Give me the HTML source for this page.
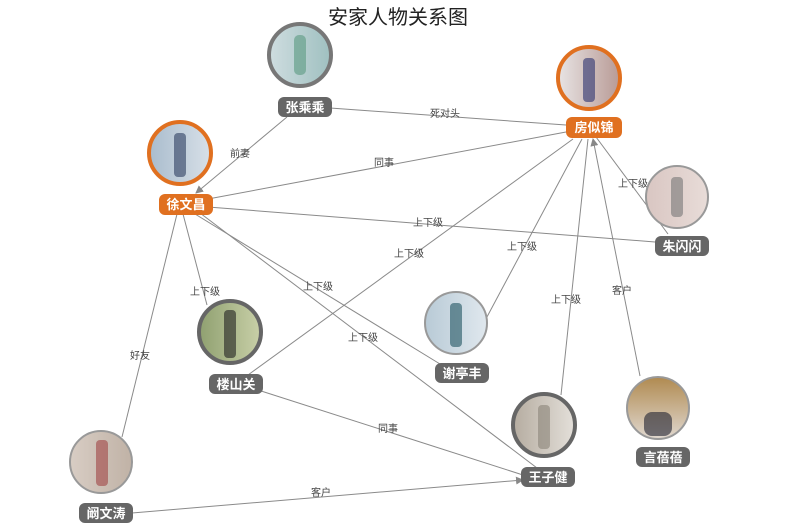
<!DOCTYPE html>
<html><head><meta charset="utf-8"><style>
html,body{margin:0;padding:0;background:#fff;}
svg{display:block;font-family:"Liberation Sans","Noto Sans CJK SC",sans-serif;}
.e{stroke:#8a8a8a;stroke-width:1;fill:none}
.el{font-size:10px;fill:#444;text-anchor:middle}
.lt{font-size:13px;fill:#fff;text-anchor:middle;font-weight:bold}
</style></head><body>
<svg width="800" height="530" viewBox="0 0 800 530">
<defs>
<marker id="a" markerWidth="8" markerHeight="8" refX="7" refY="4" orient="auto" markerUnits="userSpaceOnUse"><path d="M0,0 L8,4 L0,8 z" fill="#888"/></marker>
<linearGradient id="g1" x1="0" x2="1"><stop offset="0" stop-color="#cfdde0"/><stop offset="1" stop-color="#9fc0c0"/></linearGradient>
<linearGradient id="g2" x1="0" x2="1"><stop offset="0" stop-color="#e8e4e4"/><stop offset="1" stop-color="#b89a95"/></linearGradient>
<linearGradient id="g3" x1="0" x2="1"><stop offset="0" stop-color="#a9bccd"/><stop offset="1" stop-color="#d8e0e8"/></linearGradient>
<linearGradient id="g4" x1="0" x2="1"><stop offset="0" stop-color="#d9c6c2"/><stop offset="1" stop-color="#e8dcd8"/></linearGradient>
<linearGradient id="g5" x1="0" x2="1"><stop offset="0" stop-color="#8fa070"/><stop offset="1" stop-color="#c9d0a8"/></linearGradient>
<linearGradient id="g6" x1="0" x2="1"><stop offset="0" stop-color="#b8cad6"/><stop offset="1" stop-color="#e0e8ee"/></linearGradient>
<linearGradient id="g7" x1="0" x2="1"><stop offset="0" stop-color="#b5aca0"/><stop offset="1" stop-color="#e4e0da"/></linearGradient>
<linearGradient id="g8" x1="0" x2="0" y1="0" y2="1"><stop offset="0" stop-color="#b08a50"/><stop offset="1" stop-color="#e0d8d0"/></linearGradient>
<linearGradient id="g9" x1="0" x2="1"><stop offset="0" stop-color="#d8cdc4"/><stop offset="1" stop-color="#c0b2a6"/></linearGradient>
</defs>
<text x="398" y="24" font-size="20" text-anchor="middle" fill="#222">安家人物关系图</text>
<!-- edges -->
<line class="e" x1="287" y1="117" x2="196" y2="193" marker-end="url(#a)"/>
<line class="e" x1="330" y1="108" x2="566" y2="125"/>
<line class="e" x1="566" y1="132" x2="208" y2="199"/>
<line class="e" x1="208" y1="207" x2="655" y2="242"/>
<line class="e" x1="573" y1="139" x2="248" y2="375"/>
<line class="e" x1="582" y1="139" x2="480" y2="330"/>
<line class="e" x1="588" y1="139" x2="561" y2="395"/>
<line class="e" x1="596" y1="137" x2="668" y2="234"/>
<line class="e" x1="640" y1="376" x2="593" y2="139" marker-end="url(#a)"/>
<line class="e" x1="183" y1="214" x2="207" y2="305"/>
<line class="e" x1="195" y1="214" x2="440" y2="364"/>
<line class="e" x1="200" y1="213" x2="537" y2="468"/>
<line class="e" x1="177" y1="214" x2="122" y2="437"/>
<line class="e" x1="258" y1="390" x2="523" y2="475"/>
<line class="e" x1="132" y1="513" x2="523" y2="480" marker-end="url(#a)"/>
<g class="el">
<text x="240" y="157">前妻</text><text x="445" y="117">死对头</text><text x="384" y="166">同事</text>
<text x="428" y="226">上下级</text><text x="409" y="257">上下级</text><text x="522" y="250">上下级</text>
<text x="566" y="303">上下级</text><text x="633" y="187">上下级</text><text x="622" y="294">客户</text>
<text x="205" y="295">上下级</text><text x="318" y="290">上下级</text><text x="363" y="341">上下级</text>
<text x="140" y="359">好友</text><text x="388" y="432">同事</text><text x="321" y="496">客户</text>
</g>
<!-- circles -->
<circle cx="300" cy="55" r="31" fill="url(#g1)" stroke="#777" stroke-width="4"/>
<circle cx="589" cy="78" r="31" fill="url(#g2)" stroke="#e07020" stroke-width="4"/>
<circle cx="180" cy="153" r="31" fill="url(#g3)" stroke="#e07020" stroke-width="4"/>
<circle cx="677" cy="197" r="31" fill="url(#g4)" stroke="#999" stroke-width="2"/>
<circle cx="230" cy="332" r="31" fill="url(#g5)" stroke="#666" stroke-width="4"/>
<circle cx="456" cy="323" r="31" fill="url(#g6)" stroke="#999" stroke-width="2"/>
<circle cx="544" cy="425" r="31" fill="url(#g7)" stroke="#666" stroke-width="4"/>
<circle cx="658" cy="408" r="31" fill="url(#g8)" stroke="#999" stroke-width="2"/>
<circle cx="101" cy="462" r="31" fill="url(#g9)" stroke="#999" stroke-width="2"/>
<!-- figures -->
<g fill="#555" opacity="0.6">
<rect x="294" y="35" width="12" height="40" rx="5" fill="#5a9a80"/>
<rect x="583" y="58" width="12" height="44" rx="4" fill="#2c3270"/>
<rect x="174" y="133" width="12" height="44" rx="4" fill="#2d3d60"/>
<rect x="671" y="177" width="12" height="40" rx="4" fill="#777"/>
<rect x="224" y="310" width="12" height="48" rx="4" fill="#222"/>
<rect x="450" y="303" width="12" height="44" rx="4" fill="#1f5460"/>
<rect x="538" y="405" width="12" height="44" rx="4" fill="#8a8478"/>
<rect x="644" y="412" width="28" height="24" rx="8" fill="#1f2230"/>
<rect x="96" y="440" width="12" height="46" rx="4" fill="#a04545"/>
</g>
<!-- labels -->
<g>
<rect x="278" y="97" width="54" height="20" rx="6" fill="#666"/><text class="lt" x="305" y="112">张乘乘</text>
<rect x="566" y="117" width="56" height="21" rx="6" fill="#e07020"/><text class="lt" x="594" y="132">房似锦</text>
<rect x="159" y="194" width="54" height="21" rx="6" fill="#e07020"/><text class="lt" x="186" y="209">徐文昌</text>
<rect x="655" y="236" width="54" height="20" rx="6" fill="#666"/><text class="lt" x="682" y="251">朱闪闪</text>
<rect x="209" y="374" width="54" height="20" rx="6" fill="#666"/><text class="lt" x="236" y="389">楼山关</text>
<rect x="435" y="363" width="54" height="20" rx="6" fill="#666"/><text class="lt" x="462" y="378">谢亭丰</text>
<rect x="521" y="467" width="54" height="20" rx="6" fill="#666"/><text class="lt" x="548" y="482">王子健</text>
<rect x="636" y="447" width="54" height="20" rx="6" fill="#666"/><text class="lt" x="663" y="462">言蓓蓓</text>
<rect x="79" y="503" width="54" height="20" rx="6" fill="#666"/><text class="lt" x="106" y="518">阚文涛</text>
</g>
</svg>
</body></html>
